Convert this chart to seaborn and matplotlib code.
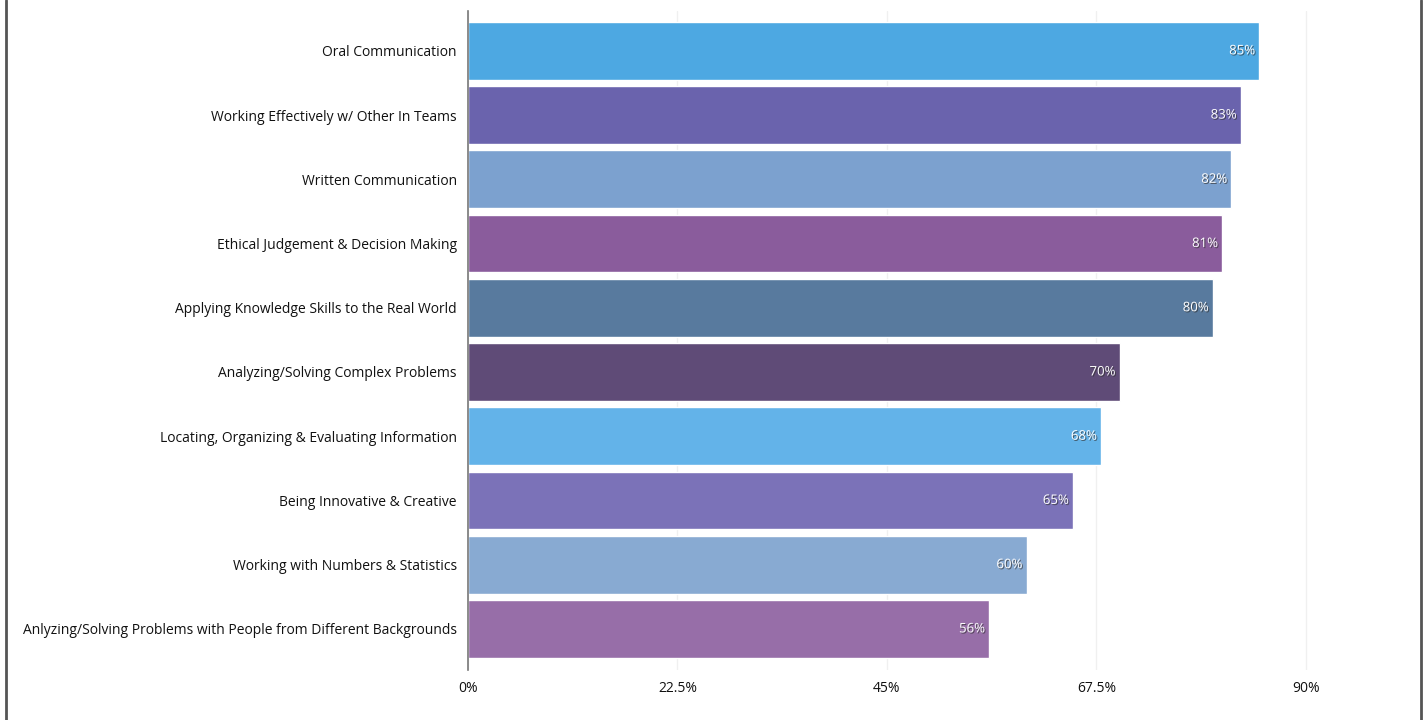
import matplotlib
matplotlib.use("Agg")
import matplotlib.pyplot as plt
import matplotlib.patheffects as pe
import matplotlib.ticker as mtick
from matplotlib.lines import Line2D
import seaborn as sns

SKILLS = [
    "Oral Communication",
    "Working Effectively w/ Other In Teams",
    "Written Communication",
    "Ethical Judgement & Decision Making",
    "Applying Knowledge Skills to the Real World",
    "Analyzing/Solving Complex Problems",
    "Locating, Organizing & Evaluating Information",
    "Being Innovative & Creative",
    "Working with Numbers & Statistics",
    "Anlyzing/Solving Problems with People from Different Backgrounds",
]
PCT = [85, 83, 82, 81, 80, 70, 68, 65, 60, 56]
COLORS = ["#4DA8E2", "#6A63AD", "#7CA1CF", "#8A5C9C", "#587A9E",
          "#5F4B77", "#63B3E9", "#7B72B8", "#88AAD2", "#976EA8"]
XTICKS = [0, 22.5, 45, 67.5, 90]
XTICK_LABELS = ["0%", "22.5%", "45%", "67.5%", "90%"]

sns.set_style("white")
plt.rcParams["font.family"] = ["Open Sans", "DejaVu Sans"]

fig = plt.figure(figsize=(14.25, 7.2), dpi=100)
ax = fig.add_axes([468 / 1425, 1 - 670 / 720, (1399 - 468) / 1425, (670 - 11) / 720])

sns.barplot(x=PCT, y=SKILLS, hue=SKILLS, palette=COLORS, legend=False,
            orient="h", width=0.9, saturation=1, ax=ax, zorder=2)

for bar, val in zip(ax.patches, PCT):
    ax.text(bar.get_width() - 0.45, bar.get_y() + bar.get_height() / 2,
            f"{val}%", ha="right", va="center", color="white", fontsize=9.5,
            path_effects=[pe.withSimplePatchShadow(offset=(0.8, -0.8),
                                                    shadow_rgbFace="#333333",
                                                    alpha=0.7)],
            zorder=3)

ax.set_xlim(0, 100)
ax.set_ylim(9.64, -0.62)
ax.set_xticks(XTICKS)
ax.set_xticklabels(XTICK_LABELS, fontsize=10, color="#111111")
ax.tick_params(axis="y", labelsize=10, length=0, pad=8, labelcolor="#111111")
ax.tick_params(axis="x", length=0, pad=8)
ax.set_xlabel("")
ax.set_ylabel("")
ax.xaxis.grid(True, color="#f0f0f0", linewidth=1, zorder=0)
ax.set_axisbelow(True)
for s in ["top", "right", "bottom"]:
    ax.spines[s].set_visible(False)
ax.spines["left"].set_color("#777777")
ax.spines["left"].set_linewidth(1.2)

for xp in (6 / 1425, 1421 / 1425):
    fig.add_artist(Line2D([xp, xp], [0, 1], color="#555555", linewidth=2,
                          transform=fig.transFigure))

fig.savefig("out.png", dpi=100, facecolor="white")
